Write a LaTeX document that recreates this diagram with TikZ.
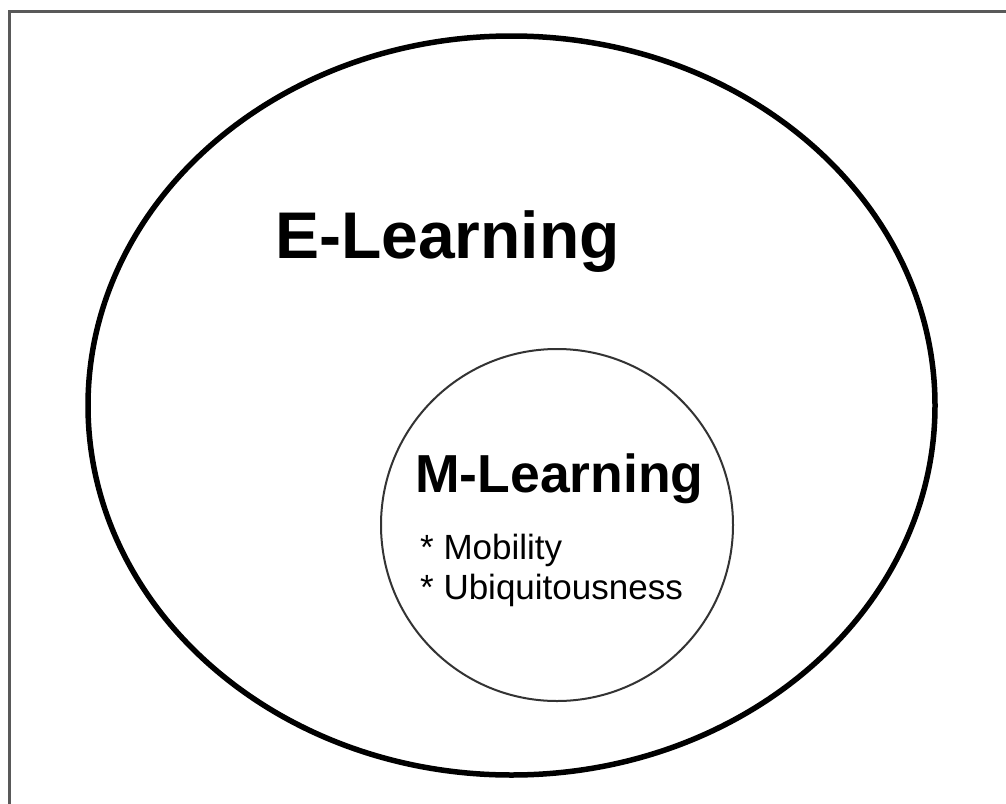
\documentclass[tikz,border=0pt]{standalone}
\usepackage{fontspec}
\setmainfont{Liberation Sans}
\tikzset{
  outerring/.style={line width=5.5pt, draw=black},
  innerring/.style={line width=2pt, draw=black!80},
  bigtitle/.style={anchor=base west, inner sep=0pt, font=\fontsize{66}{66}\selectfont\bfseries},
  midtitle/.style={anchor=base west, inner sep=0pt, font=\fontsize{53.5}{53.5}\selectfont\bfseries},
  itemtext/.style={anchor=base west, inner sep=0pt, font=\fontsize{35}{35}\selectfont},
}
\begin{document}
\begin{tikzpicture}[x=1pt,y=1pt]
\useasboundingbox (0,0) rectangle (1006,-803);
\fill[white] (0,0) rectangle (1006,-803);
\draw[line width=3pt, draw=black!65] (9.5,-810) -- (9.5,-11.5) -- (1012,-11.5);
\draw[outerring] (511.5,-405.5) ellipse [x radius=423.5, y radius=369.5];
\draw[innerring] (557,-525) circle [radius=176];
\node[bigtitle] (elearn) at (275,-258) {E-Learning};
\node[midtitle] (mlearn) at (415,-492) {M-Learning};
\node[itemtext] (mob) at (420,-559) {* Mobility};
\node[itemtext] (ubi) at (420,-599) {* Ubiquitousness};
\end{tikzpicture}
\end{document}
